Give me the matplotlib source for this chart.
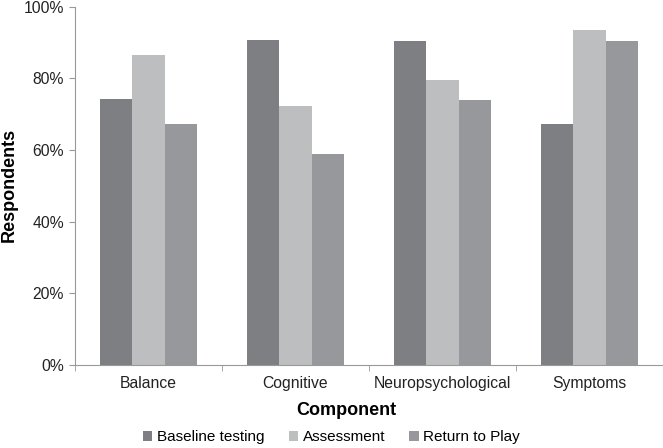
import matplotlib.pyplot as plt
import numpy as np

plt.switch_backend('Agg')
plt.rcParams['font.family'] = ['Liberation Sans', 'DejaVu Sans']

# values (% of respondents)
components = ["Balance", "Cognitive", "Neuropsychological", "Symptoms"]
series_names = ["Baseline testing", "Assessment", "Return to Play"]
baseline = [74.2, 90.8, 90.4, 67.2]
assessment = [86.4, 72.2, 79.5, 93.6]
return_to_play = [67.2, 59.0, 73.9, 90.4]
colors = ["#7e7f83", "#bdbec0", "#97989b"]

fig = plt.figure(figsize=(6.63, 4.48), dpi=100)
ax = fig.add_axes([0.113, 0.185, 0.887, 0.8])

x = np.arange(len(components))
width = 0.22
for i, (vals, name) in enumerate(zip([baseline, assessment, return_to_play], series_names)):
    ax.bar(x + (i - 1) * width, vals, width, color=colors[i], label=name)

ax.set_xlim(-0.5, len(components) - 0.5)
ax.set_ylim(0, 100)
ax.set_yticks(np.arange(0, 101, 20))
ax.set_yticklabels(["{}%".format(v) for v in range(0, 101, 20)], fontsize=11.3, color="#222222")
ax.set_xticks(x)
ax.set_xticklabels(components, fontsize=11.3, color="#222222")
# small ticks between the category groups
ax.set_xticks(np.arange(-0.5, len(components), 1), minor=True)
ax.tick_params(axis='x', which='major', length=0, pad=8)
ax.tick_params(axis='x', which='minor', length=4, color="#999999")
ax.tick_params(axis='y', length=4, color="#999999", pad=4)

for side in ["top", "right"]:
    ax.spines[side].set_visible(False)
for side in ["left", "bottom"]:
    ax.spines[side].set_color("#999999")

# axis titles placed on the figure so they stay inside the canvas
fig.text(0.014, 0.587, "Respondents", fontsize=13, fontweight="bold",
         rotation=90, ha="center", va="center")
fig.text(0.523, 0.083, "Component", fontsize=13, fontweight="bold", ha="center", va="center")

fig.legend(loc="center", bbox_to_anchor=(0.5, 0.024), ncol=3, frameon=False,
           fontsize=11, handlelength=0.6, handleheight=0.6, handletextpad=0.3,
           columnspacing=1.6, borderaxespad=0)

plt.savefig("out.png", dpi=100)
